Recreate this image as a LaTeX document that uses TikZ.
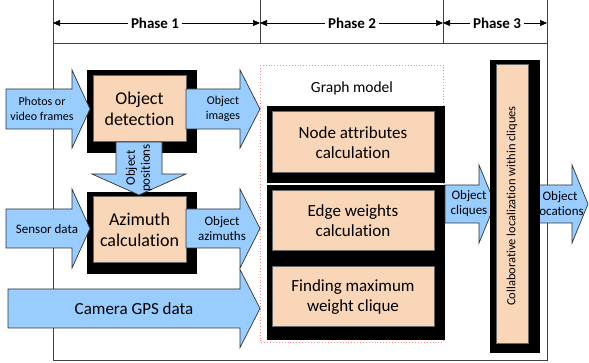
\documentclass[tikz,border=0pt]{standalone}
\usepackage{fontspec}
\setmainfont{Carlito}[Ligatures=NoCommon]
\usetikzlibrary{arrows.meta}
\definecolor{ablue}{HTML}{99CCFF}
\definecolor{peach}{HTML}{FAD6B8}
\definecolor{pinkd}{HTML}{FF8A8A}
\newcommand\rarr[6]{% xstart, xhead, xtip, ycenter, halfbody, halfhead
\draw[barrow] (#1,#4-#5) -- (#2,#4-#5) -- (#2,#4-#6) -- (#3,#4) -- (#2,#4+#6) -- (#2,#4+#5) -- (#1,#4+#5) -- cycle;}
\tikzset{
  barrow/.style={fill=ablue,draw=black!80,line width=0.7pt,line join=miter},
  blackbox/.style={fill=black,draw=none},
  peachbox/.style={fill=peach,draw=black!60,line width=1pt},
  frameline/.style={draw=black!75,line width=0.8pt},
  phasearr/.style={draw=black,line width=0.6pt,{Triangle[length=7pt,width=6pt]}-{Triangle[length=7pt,width=6pt]}},
  small/.style={font=\fontsize{12}{14.5}\selectfont,align=center,inner sep=0pt},
  smallb/.style={font=\fontsize{13}{15}\selectfont,align=center,inner sep=0pt},
  big/.style={font=\fontsize{18}{21}\selectfont,align=center,inner sep=0pt},
  mid/.style={font=\fontsize{17}{20}\selectfont,align=center,inner sep=0pt},
  phaselbl/.style={font=\fontsize{15}{17}\selectfont\bfseries,fill=white,inner sep=3pt}
}
\begin{document}
\begin{tikzpicture}[x=1pt,y=-1pt]
\useasboundingbox (0,0) rectangle (589,363);
% frame
\draw[frameline] (53,0) -- (53,360) -- (547,360) -- (547,0);
\draw[frameline] (53,43) -- (547,43);
\draw[frameline] (260,0) -- (260,43);
\draw[frameline] (443,0) -- (443,43);
% phase arrows
\coordinate (p0) at (53,23); \coordinate (p1) at (260,23);
\coordinate (p2) at (443,23); \coordinate (p3) at (547,23);
\draw[phasearr] (p0) -- (p1);
\draw[phasearr] (p1) -- (p2);
\draw[phasearr] (p2) -- (p3);
\node[phaselbl] (ph1) at (155,23) {Phase 1};
\node[phaselbl] (ph2) at (352,23) {Phase 2};
\node[phaselbl] (ph3) at (497,23) {Phase 3};
% graph model dashed box
\draw[pinkd,dotted,line width=0.9pt] (260,65) rectangle (443,342);
\node[mid,font=\fontsize{15.5}{18}\selectfont] (gm) at (352,88) {Graph model};
% black blocks
\fill[blackbox] (87,70) rectangle (197,153);
\fill[blackbox] (87,192) rectangle (197,274);
\fill[blackbox] (267,106) rectangle (445,183.5);
\fill[blackbox] (267,185) rectangle (445,340);
% peach boxes
\draw[peachbox] (93,76) rectangle (186,142);
\node[big] (det) at (139.5,109) {Object\\detection};
\draw[peachbox] (93,197) rectangle (186,263);
\node[big] (azi) at (139.5,230) {Azimuth\\calculation};
\draw[peachbox] (272,112) rectangle (434,173);
\node[mid] (node) at (353,142.5) {Node attributes\\calculation};
\draw[peachbox] (272,191) rectangle (434,251);
\node[mid] (edge) at (353,221) {Edge weights\\calculation};
\draw[peachbox] (272,267) rectangle (434,327);
\node[mid] (find) at (353,297) {Finding maximum\\weight clique};
% left arrows
\rarr{6}{72}{90}{109}{20}{39}
\node[small] (photos) at (42,109) {Photos or\\video frames};
\rarr{6}{72}{90}{228.5}{19.5}{39.5}
\node[smallb] (sensor) at (47,229) {Sensor data};
\rarr{186}{240}{260}{109}{20}{39}
\node[small] (objimg) at (223,109) {Object\\images};
\rarr{186}{240}{260}{228.5}{19.5}{39.5}
\node[smallb] (objazi) at (222,229) {Object\\azimuths};
\rarr{8}{240}{260}{308.5}{19.5}{39}
\node[big,font=\fontsize{17}{20}\selectfont] (gps) at (134,309) {Camera GPS data};
% down arrow
\draw[barrow] (116,142) -- (162,142) -- (162,174) -- (186,174) -- (139,195) -- (92,174) -- (116,174) -- cycle;
\node[smallb,rotate=90] (objpos) at (139,168) {Object\\positions};
% right arrows
\rarr{445}{479}{495}{204}{19}{39}
\node[smallb] (objcl) at (469,204) {Object\\cliques};
\rarr{528}{572}{588}{204}{19}{39}
\node[smallb] (objloc) at (560,204) {Object\\locations};
% collaborative box
\fill[blackbox] (490,60) rectangle (540,353);
\draw[peachbox] (496,65) rectangle (528,343);
\node[small,font=\fontsize{12.5}{14}\selectfont,rotate=90] (collab) at (512,206) {Collaborative localization within cliques};
\end{tikzpicture}
\end{document}
